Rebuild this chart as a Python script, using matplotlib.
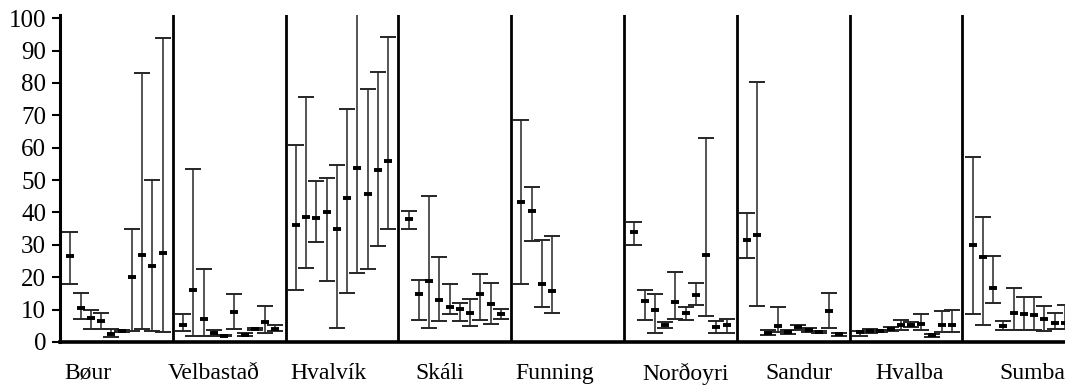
import numpy as np
import matplotlib
matplotlib.use("Agg")
import matplotlib.pyplot as plt

# ==============================================
# Range plot (min / median / max) per site
# ==============================================

nan = np.nan

groups = ['Bøur', 'Velbastað', 'Hvalvík', 'Skáli', 'Funning',
          'Norðoyri', 'Sandur', 'Hvalba', 'Sumba']

# one list of 10 samples per site
low = [
    [18, 7, 4, 4, 1.5, 3.2, 3.5, 4, 3.5, 3],
    [3.3, 1.9, 1.9, 2, 1.8, 3.9, 1.8, 3.8, 2.8, 3.3],
    [16, 23, 31, 18.8, 4.3, 15, 21.2, 22.5, 29.7, 35],
    [35, 6.9, 4.4, 6.4, 8.5, 6.4, 5, 6.7, 5.5, 7.2],
    [18, 31.3, 10.7, 9, nan, nan, nan, nan, nan, nan],
    [30, 6.7, 2.9, 4.4, 7, 6.7, 11.4, 8.1, 2.9, 2.9],
    [25.9, 11, 2.1, 3.1, 2.6, 3.6, 3.1, 2.7, 4.4, 2],
    [2, 2.8, 3, 3.5, 3.8, 4.7, 3.8, 1.5, 3.1, 3.1],
    [8.8, 5.4, 11.9, 3.8, 3.6, 3.6, 3.6, 3.3, 4.1, 4],
]
mid = [
    [26.5, 10.5, 7.5, 6.5, 2.5, 3.5, 20, 27, 23.5, 27.5],
    [5.2, 16, 7, 2.8, 2, 9.3, 2.3, 4, 6.2, 4.1],
    [36, 38.5, 38.3, 40, 35, 44.5, 53.8, 45.7, 53, 56],
    [38, 14.8, 18.8, 12.9, 10.9, 10.3, 9.1, 14.8, 11.7, 8.8],
    [43.2, 40.6, 17.9, 15.8, nan, nan, nan, nan, nan, nan],
    [33.9, 12.7, 9.8, 5.2, 12.4, 9, 14.5, 26.9, 4.7, 5.2],
    [31.6, 33.1, 2.9, 4.9, 3.1, 4.7, 3.8, 3, 9.6, 2.4],
    [3, 3.5, 3.4, 4, 5.4, 5.2, 5.5, 2.3, 5.4, 5.4],
    [30, 26.4, 16.8, 4.8, 9, 8.8, 8.3, 7.2, 6, 6],
]
high = [
    [34, 15, 10, 9, 4, 3.8, 35, 83, 50, 94],
    [8.5, 53.5, 22.5, 3.8, 2.2, 14.8, 2.8, 4.3, 11.2, 5.2],
    [61, 75.8, 49.7, 50.7, 54.7, 72, 103, 78, 83.5, 94.2],
    [40.5, 19.2, 45, 26.2, 17.9, 12.2, 13.3, 20.9, 18.3, 10.2],
    [68.6, 47.9, 31.6, 32.6, nan, nan, nan, nan, nan, nan],
    [37, 16.2, 14.8, 6.2, 21.5, 10.9, 18.1, 63, 6.4, 7.2],
    [39.8, 80.4, 3.6, 10.9, 3.6, 5.4, 4.3, 3.3, 15, 2.9],
    [3.5, 4, 3.8, 4.5, 6.9, 6.2, 8.6, 2.6, 9.5, 10],
    [57.1, 38.5, 26.7, 6.5, 16.6, 13.8, 13.8, 11.2, 9, 11.5],
]

yticks = list(range(0, 101, 10))

# layout
group_width = 11
label_shift = [-2.75, -1.5, -1.3, -1.5, -1.3, 0.5, 0.6, 0.3, 1.3]

plt.rcParams['font.family'] = ['Liberation Serif', 'DejaVu Serif']

fig = plt.figure(figsize=(10.65, 3.85), dpi=100)
ax = fig.add_axes([60 / 1065, 1 - 342 / 385, 1 - 60 / 1065, (342 - 15) / 385])

for g, name in enumerate(groups):
    start = g * group_width
    lo = np.array(low[g], dtype=float)
    md = np.array(mid[g], dtype=float)
    hi = np.array(high[g], dtype=float)
    x = start + 1 + np.arange(len(md))
    ok = ~np.isnan(md)
    ax.errorbar(x[ok], md[ok], yerr=[md[ok] - lo[ok], hi[ok] - md[ok]],
                fmt='none', ecolor='#262626', elinewidth=1.1,
                capsize=6, capthick=1.4)
    ax.plot(x[ok], md[ok], linestyle='none', marker='_', markersize=5.5,
            markeredgewidth=2.8, color='black')
    if g > 0:
        ax.axvline(start, color='black', lw=2.0)

ax.set_xlim(0, 98)
ax.set_ylim(0, 101)
ax.set_yticks(yticks)
ax.tick_params(axis='y', labelsize=18, length=6, width=1.5, pad=4,
               direction='out')

centers = [g * group_width + group_width / 2 + s
           for g, s in enumerate(label_shift)]
ax.set_xticks(centers)
ax.set_xticklabels(groups)
ax.tick_params(axis='x', labelsize=17, length=0, pad=15)

for side in ['top', 'right']:
    ax.spines[side].set_visible(False)
ax.spines['left'].set_linewidth(2.2)
ax.spines['bottom'].set_linewidth(2.6)

fig.savefig('out.png', dpi=100)
plt.close(fig)
